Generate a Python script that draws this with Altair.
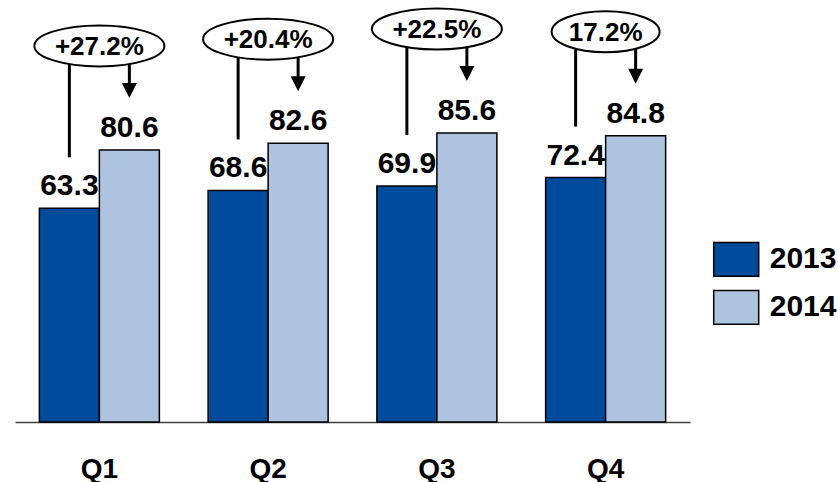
import altair as alt
import pandas as pd

quarters = ["Q1", "Q2", "Q3", "Q4"]
years = ["2013", "2014"]
values_2013 = [63.3, 68.6, 69.9, 72.4]
values_2014 = [80.6, 82.6, 85.6, 84.8]
growth_labels = ["+27.2%", "+20.4%", "+22.5%", "17.2%"]
colors = ["#004B9B", "#ADC3E0"]

FONT = "Liberation Sans"

bars_df = pd.DataFrame({
    "quarter": quarters * 2,
    "year": [years[0]] * 4 + [years[1]] * 4,
    "value": values_2013 + values_2014,
})
bars_df["label"] = bars_df["value"].map(lambda v: f"{v:.1f}")

ann_df = pd.DataFrame({
    "quarter": quarters,
    "v13": values_2013,
    "v14": values_2014,
    "growth": growth_labels,
})

x_enc = alt.X(
    "quarter:N", sort=quarters,
    scale=alt.Scale(paddingInner=0.2889, paddingOuter=0.1444),
    axis=alt.Axis(title=None, labelAngle=0, ticks=False, grid=False,
                  labelFont=FONT, labelFontSize=28, labelFontWeight="bold",
                  labelColor="black", labelPadding=33,
                  domainColor="#404040", domainWidth=1.5),
)
y_scale = alt.Scale(domain=[0, 125], nice=False, zero=True)
xo_scale = alt.Scale(domain=years)

legend = alt.Legend(
    title=None, orient="none", legendX=697.7, legendY=235.8, padding=0,
    symbolType="M -1 -0.75 H 1 V 0.75 H -1 Z", symbolSize=2025,
    symbolStrokeColor="black", symbolStrokeWidth=1.5, symbolOpacity=1,
    labelFont=FONT, labelFontSize=30, labelFontWeight="bold",
    labelColor="black", labelOffset=10, rowPadding=4,
)

base = alt.Chart(bars_df)
bars = base.mark_bar(stroke="black", strokeWidth=1.5).encode(
    x=x_enc,
    xOffset=alt.XOffset("year:N", scale=xo_scale),
    y=alt.Y("value:Q", scale=y_scale, axis=None),
    color=alt.Color("year:N", scale=alt.Scale(domain=years, range=colors), legend=legend),
)
bar_labels = base.mark_text(
    font=FONT, fontSize=30, fontWeight="bold", color="black",
    baseline="alphabetic", dy=-13,
).encode(
    x=x_enc,
    xOffset=alt.XOffset("year:N", scale=xo_scale),
    y=alt.Y("value:Q", scale=y_scale, axis=None),
    text="label:N",
)

ann = alt.Chart(ann_df)
left_rule = ann.transform_calculate(yr="'2013'").mark_rule(
    color="black", strokeWidth=3, yOffset=-95, y2Offset=-51,
).encode(
    x=x_enc,
    xOffset=alt.XOffset("yr:N", scale=xo_scale),
    y=alt.Y("v14:Q", scale=y_scale, axis=None),
    y2="v13:Q",
)
right_rule = ann.transform_calculate(yr="'2014'").mark_rule(
    color="black", strokeWidth=3, yOffset=-95, y2Offset=-66,
).encode(
    x=x_enc,
    xOffset=alt.XOffset("yr:N", scale=xo_scale),
    y=alt.Y("v14:Q", scale=y_scale, axis=None),
    y2="v14:Q",
)
arrow_head = ann.transform_calculate(yr="'2014'").mark_point(
    shape="M -1 -1 L 1 -1 L 0 1 Z", size=225, filled=True,
    fill="black", opacity=1, yOffset=-59.5,
).encode(
    x=x_enc,
    xOffset=alt.XOffset("yr:N", scale=xo_scale),
    y=alt.Y("v14:Q", scale=y_scale, axis=None),
)

ellipses = []
k = 0.5523
for q, g in zip(quarters, growth_labels):
    w = 130 if g.startswith("+") else 108
    r = 41 / w
    path = (f"M -1 0 C -1 {-k*r:.4f} {-k:.4f} {-r:.4f} 0 {-r:.4f} "
            f"C {k:.4f} {-r:.4f} 1 {-k*r:.4f} 1 0 "
            f"C 1 {k*r:.4f} {k:.4f} {r:.4f} 0 {r:.4f} "
            f"C {-k:.4f} {r:.4f} -1 {k*r:.4f} -1 0 Z")
    ellipses.append(
        ann.transform_filter(alt.datum.quarter == q).mark_point(
            shape=path, size=w * w, filled=True, fill="white",
            stroke="black", strokeWidth=2, opacity=1, strokeOpacity=1,
            yOffset=-104,
        ).encode(
            x=x_enc,
            y=alt.Y("v14:Q", scale=y_scale, axis=None),
        )
    )

growth_text = ann.mark_text(
    font=FONT, fontSize=26, fontWeight="bold", color="black",
    baseline="alphabetic", dy=-94.7,
).encode(
    x=x_enc,
    y=alt.Y("v14:Q", scale=y_scale, axis=None),
    text="growth:N",
)

chart = alt.layer(
    bars, bar_labels, left_rule, right_rule, arrow_head, *ellipses, growth_text
).properties(
    width=675, height=422,
    padding={"left": 15, "top": 0, "right": 148, "bottom": 60},
    autosize="none",
).configure_view(stroke=None)

chart.save("out.html", embed_options={"renderer": "svg", "actions": False})
